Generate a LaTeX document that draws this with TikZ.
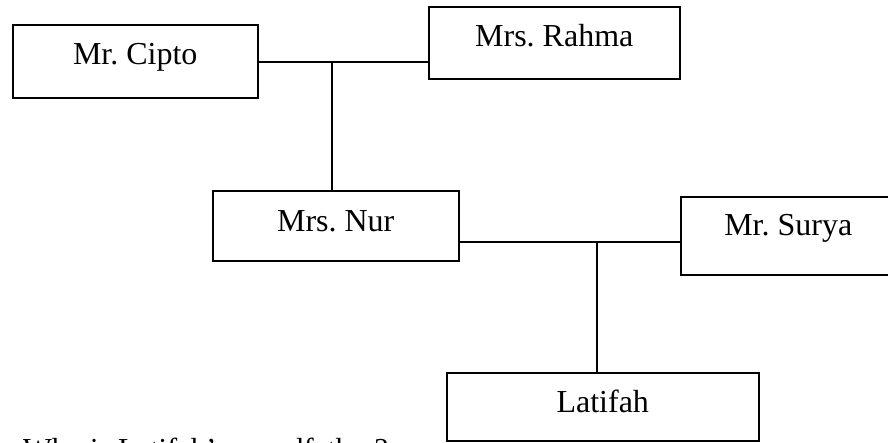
\documentclass[tikz,border=0pt]{standalone}
\usepackage{fontspec}
\setmainfont{Liberation Serif}
\tikzset{
  fambox/.style={draw, line width=1.5pt, inner sep=0pt, anchor=north west,
    font=\fontsize{32}{38}\selectfont\frenchspacing},
  famline/.style={line width=1.5pt}
}
\begin{document}
\begin{tikzpicture}[x=1pt,y=-1pt]
\useasboundingbox (0,0) rectangle (888,442);
\clip (0,0) rectangle (888,442);
\fill[white] (0,0) rectangle (888,442);
\node[fambox, minimum width=245pt, text height=40pt, text depth=33pt] (cipto) at (12,24) {Mr. Cipto};
\node[fambox, minimum width=251pt, text height=40pt, text depth=32pt] (rahma) at (428,6) {Mrs. Rahma};
\node[fambox, minimum width=246pt, text height=41pt, text depth=29pt] (nur) at (212,190) {Mrs. Nur};
\node[fambox, minimum width=215pt, text height=39pt, text depth=39pt] (surya) at (680,196) {Mr. Surya};
\node[fambox, minimum width=312pt, text height=40pt, text depth=28pt] (latifah) at (446,372) {Latifah};
\coordinate (j1) at (332,62);
\coordinate (j2) at (597,242);
\draw[famline] (j1 -| cipto.east) -- (j1 -| rahma.west);
\draw[famline] (j1) -- (j1 |- nur.north);
\draw[famline] (j2 -| nur.east) -- (j2 -| surya.west);
\draw[famline] (j2) -- (j2 |- latifah.north);
\node[anchor=base west, inner sep=0pt, font=\fontsize{30.5}{36}\selectfont\frenchspacing] (question) at (23,459) {Who is Latifah’s grandfather?};
\end{tikzpicture}
\end{document}
